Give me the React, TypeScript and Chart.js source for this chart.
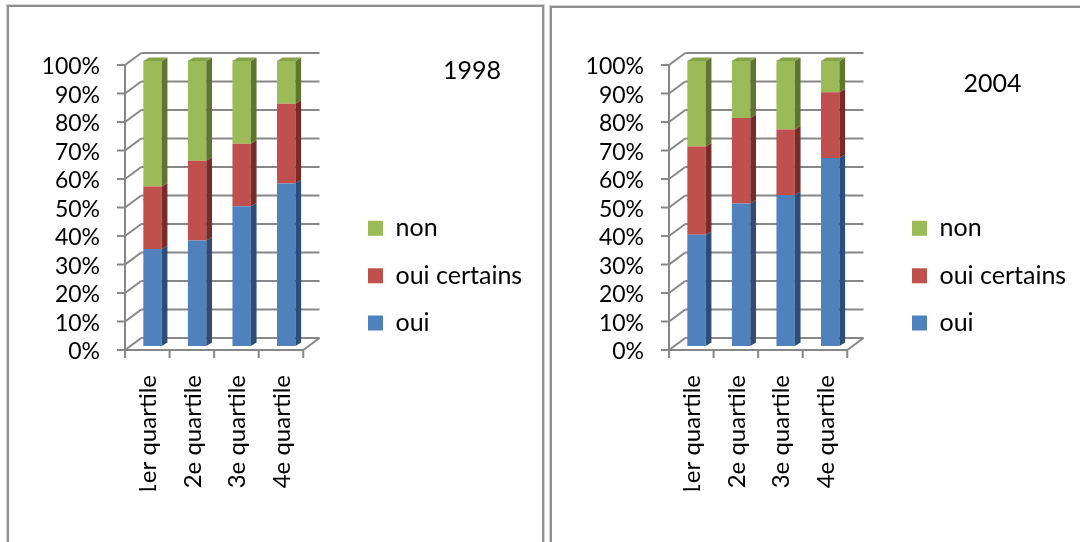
import React, { useEffect, useRef } from 'react';
import { Chart, registerables } from 'chart.js';

Chart.register(...registerables);

// ---------- data ----------
const CATEGORIES = ['1er quartile', '2e quartile', '3e quartile', '4e quartile'];
const SERIES_NAMES = ['oui', 'oui certains', 'non'];

const OUI_1998 = [34, 37, 49, 57];
const CERTAINS_1998 = [22, 28, 22, 28];
const NON_1998 = [44, 35, 29, 15];

const OUI_2004 = [39, 50, 53, 66];
const CERTAINS_2004 = [31, 30, 23, 23];
const NON_2004 = [30, 20, 24, 11];

const Y_MIN = 0;
const Y_MAX = 100;
const Y_STEP = 10;

// ---------- style ----------
const FRONT_COLORS = ['#4f81bd', '#c0504d', '#9bbb59'];
const SIDE_COLORS = ['#2c4d75', '#772c2a', '#5f7530'];
const TOP_COLORS = ['#3f6ca3', '#a34340', '#86a34a'];
const LINE_COLOR = '#878787';
const FONT = 'Lato';

const H = 542;
const AREA = { left: 130.25, right: 308.5, top: 61, bottom: 346 };
const FRONT = { x: -5.25, y: 4 };
const BACK = { x: 11, y: -8 };
const DEPTH = { x: 5.7, y: -3.4 };

const Y_FONT = 23;
const X_FONT = 24;
const LEGEND_FONT = 25;
const TITLE_FONT = 25;
const LEGEND_PAD = 22.4;
const LEGEND_WIDTH = 180;
const SQUARE_LEFT = 368;
const FIRST_ITEM_CENTER = 228.3;

const frame3d = {
  id: 'frame3d',
  beforeDatasetsDraw(chart: any, _args: any, o: any) {
    const { ctx, chartArea: a, scales } = chart;
    const ys = scales.y;
    const xs = scales.x;
    ctx.save();
    ctx.strokeStyle = o.lineColor;
    ctx.lineWidth = 2;
    const line = (x1: number, y1: number, x2: number, y2: number) => {
      ctx.beginPath();
      ctx.moveTo(x1, y1);
      ctx.lineTo(x2, y2);
      ctx.stroke();
    };
    const fx = a.left + o.front.x;
    const bx = a.left + o.back.x;
    for (const t of ys.ticks) {
      const p = ys.getPixelForValue(t.value);
      line(bx, p + o.back.y, a.right + o.back.x, p + o.back.y);
      line(fx, p + o.front.y, bx, p + o.back.y);
      line(fx - o.tick, p + o.front.y, fx, p + o.front.y);
    }
    const top = ys.getPixelForValue(ys.max);
    const bot = ys.getPixelForValue(ys.min);
    line(fx, top + o.front.y, fx, bot + o.front.y);
    line(fx, bot + o.front.y, a.right + o.front.x, bot + o.front.y);
    line(a.right + o.front.x, bot + o.front.y, a.right + o.back.x, bot + o.back.y);
    const n = xs.ticks.length;
    for (let i = 0; i <= n; i++) {
      const x = fx + ((a.right - a.left) * i) / n;
      line(x, bot + o.front.y, x, bot + o.front.y + o.tick);
    }
    ctx.restore();
  },
  afterDatasetsDraw(chart: any, _args: any, o: any) {
    const { ctx } = chart;
    ctx.save();
    const last = chart.data.datasets.length - 1;
    chart.data.datasets.forEach((_ds: any, di: number) => {
      const meta = chart.getDatasetMeta(di);
      meta.data.forEach((bar: any) => {
        const { x, y, base, width } = bar.getProps(['x', 'y', 'base', 'width'], true);
        const xl = x - width / 2;
        const xr = x + width / 2;
        const t = Math.min(y, base);
        const b = Math.max(y, base);
        ctx.fillStyle = o.side[di];
        ctx.beginPath();
        ctx.moveTo(xr, t);
        ctx.lineTo(xr + o.depth.x, t + o.depth.y);
        ctx.lineTo(xr + o.depth.x, b + o.depth.y);
        ctx.lineTo(xr, b);
        ctx.closePath();
        ctx.fill();
        if (di === last) {
          ctx.fillStyle = o.top[di];
          ctx.beginPath();
          ctx.moveTo(xl, t);
          ctx.lineTo(xl + o.depth.x, t + o.depth.y);
          ctx.lineTo(xr + o.depth.x, t + o.depth.y);
          ctx.lineTo(xr, t);
          ctx.closePath();
          ctx.fill();
        }
      });
    });
    ctx.restore();
  },
};

// chart title placed at the upper right of the plot, beside the legend
const cornerTitle = {
  id: 'cornerTitle',
  afterDraw(chart: any, _args: any, o: any) {
    const { ctx, chartArea: a } = chart;
    ctx.save();
    ctx.fillStyle = o.color;
    ctx.font = `${o.size}px ${o.family}`;
    ctx.textAlign = 'right';
    ctx.textBaseline = 'middle';
    ctx.fillText(o.text, a.right + o.dx, a.top + o.dy);
    ctx.restore();
  },
};

type PanelProps = {
  title: string;
  oui: number[];
  certains: number[];
  non: number[];
  left: number;
  width: number;
  titleRight: number;
  titleCenterY: number;
};

function ChartPanel(p: PanelProps) {
  const ref = useRef<HTMLCanvasElement | null>(null);

  useEffect(() => {
    if (!ref.current) return;
    const legendLeft = SQUARE_LEFT - LEGEND_PAD;
    const spacerWidth = legendLeft - AREA.right;
    const padRight = p.width - legendLeft - LEGEND_WIDTH;
    const colHeight = 3 * (LEGEND_FONT + LEGEND_PAD);
    const firstItemTop = FIRST_ITEM_CENTER - LEGEND_FONT / 2;
    // legend align center: itemsTop = (top + pad + bottom - colHeight) / 2
    const legendBottom = 2 * firstItemTop - AREA.top - LEGEND_PAD + colHeight;
    const padBottom = H - legendBottom;

    const values = [p.oui, p.certains, p.non];
    const chart = new Chart(ref.current, {
      type: 'bar',
      data: {
        labels: CATEGORIES,
        datasets: SERIES_NAMES.map((name, i) => ({
          label: name,
          data: values[i],
          backgroundColor: FRONT_COLORS[i],
          borderWidth: 0,
          categoryPercentage: 1,
          barPercentage: 0.413,
        })),
      },
      options: {
        responsive: false,
        animation: false,
        events: [],
        layout: { padding: { top: AREA.top, left: 0, bottom: padBottom, right: padRight } },
        scales: {
          x: {
            stacked: true,
            grid: { display: false, drawTicks: false },
            border: { display: false },
            ticks: {
              autoSkip: false,
              minRotation: 90,
              maxRotation: 90,
              padding: 29,
              labelOffset: -4,
              color: '#000',
              font: { family: FONT, size: X_FONT },
            },
            afterFit: (s: any) => {
              s.height = H - padBottom - AREA.bottom;
            },
          },
          y: {
            stacked: true,
            min: Y_MIN,
            max: Y_MAX,
            grid: { display: false, drawTicks: false },
            border: { display: false },
            ticks: {
              stepSize: Y_STEP,
              autoSkip: false,
              padding: AREA.left - 100,
              labelOffset: 6,
              color: '#000',
              font: { family: FONT, size: Y_FONT },
              callback: (v: any) => `${v}%`,
            },
            afterFit: (s: any) => {
              s.width = AREA.left;
            },
          },
          spacer: {
            type: 'linear',
            position: 'right',
            display: true,
            grid: { display: false, drawTicks: false },
            border: { display: false },
            ticks: { display: false },
            afterFit: (s: any) => {
              s.width = spacerWidth;
            },
          },
        },
        plugins: {
          tooltip: { enabled: false },
          title: { display: false },
          legend: {
            position: 'right',
            align: 'center',
            reverse: true,
            maxWidth: LEGEND_WIDTH,
            labels: {
              boxWidth: 15,
              boxHeight: 15,
              padding: LEGEND_PAD,
              color: '#000',
              font: { family: FONT, size: LEGEND_FONT },
            },
          },
          cornerTitle: {
            text: p.title,
            color: '#000',
            family: FONT,
            size: TITLE_FONT,
            dx: p.titleRight - AREA.right,
            dy: p.titleCenterY - AREA.top,
          },
          frame3d: {
            lineColor: LINE_COLOR,
            front: FRONT,
            back: BACK,
            depth: DEPTH,
            tick: 8,
            side: SIDE_COLORS,
            top: TOP_COLORS,
          },
        } as any,
      },
      plugins: [frame3d as any, cornerTitle as any],
    } as any);

    let alive = true;
    if ((document as any).fonts && (document as any).fonts.ready) {
      (document as any).fonts.ready.then(() => {
        if (alive) chart.update();
      });
    }
    return () => {
      alive = false;
      chart.destroy();
    };
  }, []);

  return (
    <canvas
      ref={ref}
      width={p.width}
      height={H}
      style={{ position: 'absolute', left: p.left, top: 0, width: p.width, height: H, display: 'block' }}
    />
  );
}

export default function App() {
  const border = '2px solid #8f8f8f';
  return (
    <div
      style={{
        position: 'absolute',
        left: 0,
        top: 0,
        width: 1080,
        height: 542,
        overflow: 'hidden',
        background: '#fff',
        fontFamily: FONT,
      }}
    >
      <div
        style={{
          position: 'absolute',
          left: 7,
          top: 5,
          width: 533,
          height: 600,
          border,
          boxShadow: '0 0 0 1px #d4d4d4',
        }}
      />
      <div
        style={{
          position: 'absolute',
          left: 550,
          top: 6,
          width: 600,
          height: 600,
          border,
          boxShadow: '0 0 0 1px #d4d4d4',
        }}
      />
      <ChartPanel
        title="1998"
        oui={OUI_1998}
        certains={CERTAINS_1998}
        non={NON_1998}
        left={0}
        width={544}
        titleRight={501}
        titleCenterY={70.5}
      />
      <ChartPanel
        title="2004"
        oui={OUI_2004}
        certains={CERTAINS_2004}
        non={NON_2004}
        left={544}
        width={536}
        titleRight={1021.4 - 544}
        titleCenterY={84.4}
      />
    </div>
  );
}
